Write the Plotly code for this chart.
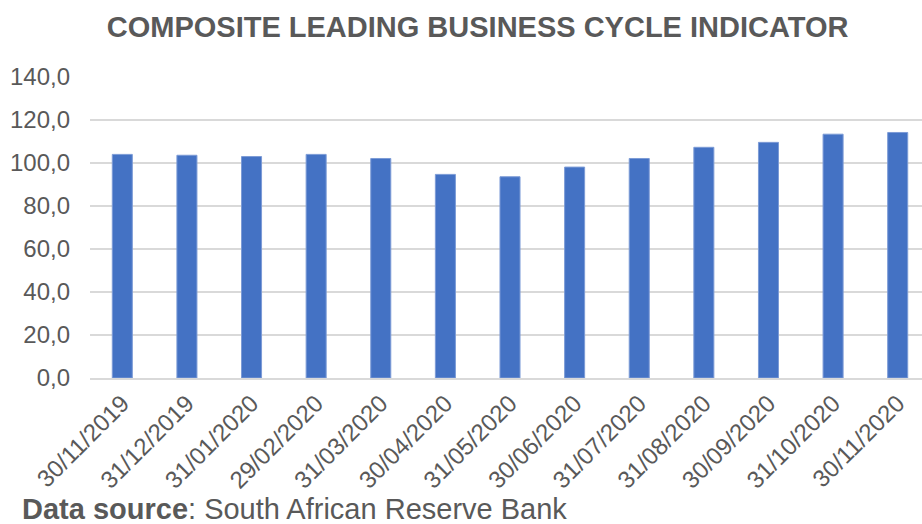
import plotly.graph_objects as go

# Month-end dates and composite leading indicator values
dates = ["30/11/2019", "31/12/2019", "31/01/2020", "29/02/2020", "31/03/2020",
         "30/04/2020", "31/05/2020", "30/06/2020", "31/07/2020", "31/08/2020",
         "30/09/2020", "31/10/2020", "30/11/2020"]
values = [104.0, 103.6, 103.0, 104.0, 102.1, 94.7, 93.6, 98.1, 102.1,
          107.3, 109.6, 113.4, 114.2]
y_ticks = [0, 20, 40, 60, 80, 100, 120, 140]

TEXT = "#595959"
FONT = "Liberation Sans, Arial, sans-serif"

fig = go.Figure(
    go.Bar(
        x=list(range(len(dates))),
        y=values,
        marker=dict(color="#4472C4", line=dict(color="#7C9BD6", width=1)),
        width=0.31,
    )
)

fig.update_layout(
    width=922,
    height=524,
    margin=dict(l=90, r=0, t=77, b=146),
    paper_bgcolor="white",
    plot_bgcolor="white",
    separators=",.",
    showlegend=False,
    font=dict(family=FONT, color=TEXT),
    title=dict(
        text="<b>COMPOSITE LEADING BUSINESS CYCLE INDICATOR</b>",
        x=0.518, xanchor="center", y=0.948, yanchor="middle",
        font=dict(size=29, color=TEXT, family=FONT),
    ),
)

fig.update_xaxes(
    range=[-0.5, 12.376],
    tickmode="array",
    tickvals=list(range(len(dates))),
    ticktext=dates,
    tickangle=-45,
    tickfont=dict(size=24, color=TEXT),
    showgrid=False,
    showline=True,
    linecolor="#d9d9d9",
    linewidth=1.5,
    ticks="",
)

fig.update_yaxes(
    range=[0, 140],
    tickvals=y_ticks,
    tickformat=".1f",
    tickfont=dict(size=24, color=TEXT),
    showgrid=True,
    gridcolor="#d9d9d9",
    gridwidth=1.5,
    zeroline=False,
    showline=False,
    ticks="",
    ticklabelstandoff=19,
)

fig.add_annotation(
    text="<b>Data source</b>: South African Reserve Bank",
    xref="paper", yref="paper",
    x=-0.083, y=-0.434, xanchor="left", yanchor="middle",
    showarrow=False, borderpad=0,
    font=dict(size=29, color=TEXT, family=FONT),
)

fig.write_html("out.html")
